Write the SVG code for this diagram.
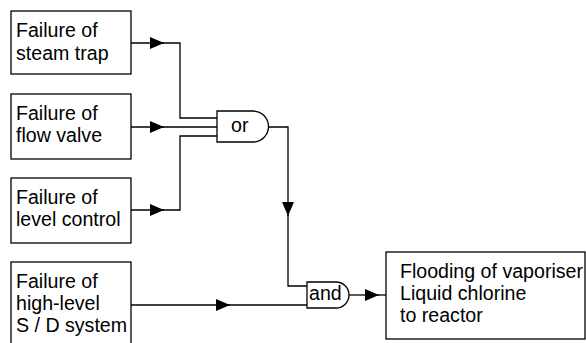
<svg xmlns="http://www.w3.org/2000/svg" width="586" height="343" viewBox="0 0 586 343">
<style>
.box{fill:#fff;stroke:#000;stroke-width:1.3}
.gate{fill:#fff;stroke:#000;stroke-width:1.3}
.wire{fill:none;stroke:#000;stroke-width:1.3}
text{font-family:"Liberation Sans",Arial,sans-serif;font-size:19.6px;fill:#000}
</style>
<defs>
<marker id="ah" viewBox="0 0 14 12" refX="14" refY="6" markerWidth="14" markerHeight="12" markerUnits="userSpaceOnUse" orient="auto">
<path d="M0,0 L14,6 L0,12 Z" fill="#000"/>
</marker>
</defs>
<rect width="586" height="343" fill="#fff"/>
<g id="connectors">
<path class="wire" d="M131,43 H164" marker-end="url(#ah)"/>
<path class="wire" d="M163,43 H180 V118 H217"/>
<path class="wire" d="M131,127 H164" marker-end="url(#ah)"/>
<path class="wire" d="M163,127 H217"/>
<path class="wire" d="M131,210 H164" marker-end="url(#ah)"/>
<path class="wire" d="M163,210 H180 V136 H217"/>
<path class="wire" d="M268,127 H288 V216" marker-end="url(#ah)"/>
<path class="wire" d="M288,215 V286 H307"/>
<path class="wire" d="M131,305 H230" marker-end="url(#ah)"/>
<path class="wire" d="M229,305 H307"/>
<path class="wire" d="M349,295 H379" marker-end="url(#ah)"/>
<path class="wire" d="M378,295 H386"/>
</g>
<g id="n1"><rect class="box" x="11" y="11" width="120" height="63"/><text x="16" y="37">Failure of</text><text x="16" y="60">steam trap</text></g>
<g id="n2"><rect class="box" x="11" y="94" width="120" height="65"/><text x="16" y="120">Failure of</text><text x="16" y="142">flow valve</text></g>
<g id="n3"><rect class="box" x="11" y="178" width="120" height="65"/><text x="16" y="204">Failure of</text><text x="16" y="226">level control</text></g>
<g id="n4"><rect class="box" x="11" y="262" width="120" height="90"/><text x="16" y="288">Failure of</text><text x="16" y="310">high-level</text><text x="16" y="332">S / D system</text></g>
<g id="or"><path class="gate" d="M217,111 H253 A15.5,15.5 0 0 1 253,142 H217 Z"/><text x="231" y="132">or</text></g>
<g id="and"><path class="gate" d="M307,282 H336 A13,13 0 0 1 336,308 H307 Z"/><text x="309" y="300">and</text></g>
<g id="top"><rect class="box" x="386" y="252" width="199" height="87"/><text x="400" y="278">Flooding of vaporiser</text><text x="400" y="300">Liquid chlorine</text><text x="400" y="322">to reactor</text></g>
</svg>
